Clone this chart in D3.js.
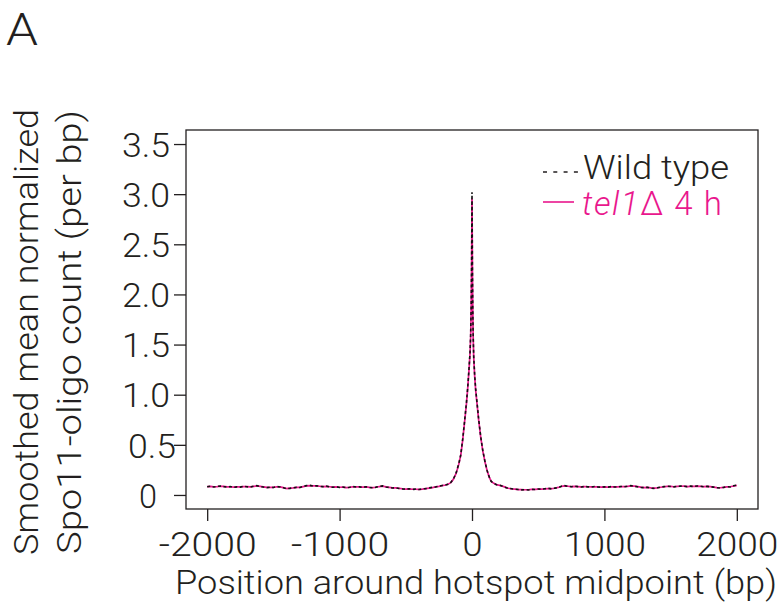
<!DOCTYPE html>
<html>
<head>
<meta charset="utf-8">
<script src="https://cdn.jsdelivr.net/npm/d3@7"></script>
<style>
  html, body { margin: 0; padding: 0; background: #ffffff; }
  svg { display: block; }
  text { font-family: "Roboto", "Liberation Sans", sans-serif; font-weight: 300; fill: #231f20; }
</style>
</head>
<body>
<svg id="chart" width="781" height="611"></svg>
<script>
// ---- data ----
const positions = [
  -2000,-1975,-1950,-1925,-1900,-1875,-1850,-1825,-1800,-1775,-1750,-1725,-1700,-1675,-1650,-1625,-1600,-1575,-1550,-1525,
  -1500,-1475,-1450,-1425,-1400,-1375,-1350,-1325,-1300,-1275,-1250,-1225,-1200,-1175,-1150,-1125,-1100,-1075,-1050,-1025,
  -1000,-975,-950,-925,-900,-875,-850,-825,-800,-775,-750,-725,-700,-675,-650,-625,-600,-575,-550,-525,
  -500,-475,-450,-425,-400,-375,-350,-325,-300,-275,-250,-225,-200,-180,-160,-140,-120,-100,-85,-70,
  -55,-42,-32,-23,-15,-10,-6,-3,-1,0,1,3,6,9,13,20,28,38,50,66,
  82,100,115,130,145,165,185,210,235,260,275,300,325,350,375,400,425,450,475,500,
  525,550,575,600,625,650,675,700,725,750,775,800,825,850,875,900,925,950,975,1000,
  1025,1050,1075,1100,1125,1150,1175,1200,1225,1250,1275,1300,1325,1350,1375,1400,1425,1450,1475,1500,
  1525,1550,1575,1600,1625,1650,1675,1700,1725,1750,1775,1800,1825,1850,1875,1900,1925,1950,1975,2000
];
const wildType = [
  0.082,0.087,0.080,0.085,0.089,0.083,0.079,0.084,0.076,0.081,0.078,0.086,0.082,0.079,0.088,0.093,0.084,0.079,0.073,0.078,
  0.074,0.084,0.080,0.071,0.062,0.066,0.072,0.076,0.074,0.085,0.093,0.096,0.089,0.092,0.086,0.083,0.088,0.080,0.077,0.082,
  0.075,0.079,0.072,0.077,0.084,0.079,0.081,0.076,0.082,0.074,0.071,0.078,0.086,0.090,0.080,0.075,0.069,0.072,0.064,0.060,
  0.057,0.061,0.055,0.058,0.054,0.060,0.063,0.070,0.076,0.079,0.088,0.095,0.100,0.106,0.125,0.160,0.220,0.310,0.400,0.560,
  0.750,0.920,1.080,1.250,1.420,1.600,1.900,2.300,2.750,3.020,2.800,2.300,1.850,1.580,1.380,1.200,1.050,0.920,0.760,0.580,
  0.440,0.320,0.240,0.180,0.135,0.115,0.102,0.098,0.085,0.072,0.066,0.062,0.058,0.055,0.051,0.053,0.050,0.056,0.054,0.060,
  0.057,0.062,0.066,0.061,0.068,0.073,0.087,0.093,0.086,0.082,0.088,0.083,0.079,0.085,0.081,0.079,0.084,0.080,0.077,0.081,
  0.078,0.083,0.080,0.079,0.085,0.082,0.088,0.093,0.087,0.082,0.076,0.073,0.077,0.068,0.066,0.072,0.078,0.083,0.088,0.085,
  0.081,0.086,0.089,0.087,0.083,0.088,0.085,0.090,0.087,0.082,0.086,0.082,0.078,0.072,0.070,0.076,0.083,0.080,0.092,0.098
];
const tel1 = [
  0.084,0.085,0.082,0.083,0.087,0.085,0.081,0.082,0.078,0.080,0.080,0.084,0.083,0.081,0.086,0.090,0.085,0.080,0.075,0.077,
  0.076,0.082,0.081,0.073,0.064,0.068,0.071,0.075,0.076,0.083,0.090,0.093,0.090,0.090,0.087,0.084,0.086,0.082,0.078,0.080,
  0.077,0.078,0.074,0.076,0.082,0.080,0.080,0.078,0.080,0.076,0.073,0.077,0.084,0.088,0.081,0.076,0.071,0.070,0.066,0.062,
  0.059,0.060,0.057,0.057,0.056,0.059,0.064,0.069,0.074,0.080,0.086,0.093,0.099,0.108,0.123,0.158,0.215,0.305,0.395,0.550,
  0.740,0.910,1.070,1.240,1.410,1.580,1.870,2.260,2.700,2.950,2.760,2.270,1.830,1.570,1.370,1.190,1.040,0.910,0.750,0.575,
  0.435,0.318,0.238,0.178,0.136,0.116,0.103,0.096,0.086,0.073,0.067,0.061,0.059,0.054,0.053,0.052,0.052,0.055,0.055,0.058,
  0.059,0.061,0.064,0.063,0.067,0.075,0.085,0.090,0.087,0.083,0.086,0.084,0.080,0.083,0.082,0.080,0.082,0.081,0.078,0.080,
  0.079,0.082,0.081,0.080,0.083,0.083,0.086,0.090,0.088,0.083,0.078,0.074,0.076,0.070,0.068,0.071,0.077,0.082,0.086,0.086,
  0.082,0.085,0.087,0.088,0.084,0.086,0.086,0.088,0.086,0.083,0.085,0.083,0.079,0.074,0.072,0.075,0.081,0.082,0.089,0.095
];
const xTicks = [-2000, -1000, 0, 1000, 2000];
const yTicks = [0, 0.5, 1.0, 1.5, 2.0, 2.5, 3.0, 3.5];
const yTickLabels = ["0", "0.5", "1.0", "1.5", "2.0", "2.5", "3.0", "3.5"];
const seriesNames = ["Wild type", "tel1", "\u0394 4 h"];

// ---- layout ----
const svg = d3.select("#chart");
const ink = "#231f20";
const magenta = "#e9178d";
const L = 186, R = 758, T = 130, B = 509;

const x = d3.scaleLinear().domain([-2160, 2160]).range([L, R]);
const y = d3.scaleLinear().domain([-0.14, 3.64]).range([B, T]);

// panel letter
svg.append("text").attr("x", 6).attr("y", 45).style("font-size", "44px")
  .attr("textLength", 32).attr("lengthAdjust", "spacingAndGlyphs").text("A");

// box
svg.append("rect").attr("x", L).attr("y", T).attr("width", R - L).attr("height", B - T)
  .attr("fill", "none").attr("stroke", ink).attr("stroke-width", 1.3);

// x axis
const xAxis = d3.axisBottom(x).tickValues(xTicks).tickSize(12).tickPadding(6)
  .tickFormat(d => d3.format("d")(d).replace("\u2212", "-"));
const gx = svg.append("g").attr("transform", `translate(0,${B})`).call(xAxis);
gx.select(".domain").remove();
gx.selectAll(".tick line").attr("stroke", ink).attr("stroke-width", 1.3);
gx.selectAll(".tick text").attr("y", 47).attr("dy", null)
  .style("font-size", "34px").style("font-family", null).attr("fill", ink)
  .attr("textLength", d => d < 0 ? 98 : (d === 0 ? 20 : 82)).attr("lengthAdjust", "spacingAndGlyphs");

// y axis
const yAxis = d3.axisLeft(y).tickValues(yTicks).tickSize(12)
  .tickFormat((d, i) => yTickLabels[i]);
const gy = svg.append("g").attr("transform", `translate(${L},0)`).call(yAxis);
gy.select(".domain").remove();
gy.selectAll(".tick line").attr("stroke", ink).attr("stroke-width", 1.3);
gy.selectAll(".tick text")
  .attr("text-anchor", "middle")
  .attr("x", d => d === 0.5 ? -34 : (d === 0 ? -38 : -40))
  .attr("dy", "0.36em")
  .style("font-size", "34px").style("font-family", null).attr("fill", ink)
  .attr("textLength", d => d === 0 ? 18 : 48).attr("lengthAdjust", "spacingAndGlyphs");

// axis titles
svg.append("text").attr("x", 476).attr("y", 594).attr("text-anchor", "middle")
  .style("font-size", "33px").attr("textLength", 602).attr("lengthAdjust", "spacingAndGlyphs")
  .text("Position around hotspot midpoint (bp)");
svg.append("text").attr("transform", "translate(38,332) rotate(-90)").attr("text-anchor", "middle")
  .style("font-size", "33px").attr("textLength", 446).attr("lengthAdjust", "spacingAndGlyphs")
  .text("Smoothed mean normalized");
svg.append("text").attr("transform", "translate(81,332) rotate(-90)").attr("text-anchor", "middle")
  .style("font-size", "33px").attr("textLength", 444).attr("lengthAdjust", "spacingAndGlyphs")
  .text("Spo11-oligo count (per bp)");

// lines
const line = d3.line().x(d => x(d[0])).y(d => y(d[1]));
const tel1Data = positions.map((p, i) => [p, tel1[i]]);
const wtData = positions.map((p, i) => [p, wildType[i]]);
svg.append("path").datum(tel1Data).attr("d", line).attr("fill", "none")
  .attr("stroke", magenta).attr("stroke-width", 1.7).attr("stroke-linejoin", "round");
svg.append("path").datum(wtData).attr("d", line).attr("fill", "none")
  .attr("stroke", "#111").attr("stroke-width", 1.6).attr("stroke-dasharray", "3,2.5");

// legend
svg.append("line").attr("x1", 543).attr("x2", 578).attr("y1", 172).attr("y2", 172)
  .attr("stroke", ink).attr("stroke-width", 1.5).attr("stroke-dasharray", "4,6.3");
svg.append("text").attr("x", 583).attr("y", 179).style("font-size", "33px")
  .attr("textLength", 146).attr("lengthAdjust", "spacingAndGlyphs").text(seriesNames[0]);
svg.append("line").attr("x1", 543).attr("x2", 574).attr("y1", 202).attr("y2", 202)
  .attr("stroke", magenta).attr("stroke-width", 1.6);
const lt = svg.append("text").attr("x", 582).attr("y", 215).style("font-size", "33px").attr("fill", magenta)
  .attr("textLength", 140).attr("lengthAdjust", "spacing");
lt.append("tspan").style("font-style", "italic").attr("fill", magenta).text(seriesNames[1]);
lt.append("tspan").attr("fill", magenta).text(seriesNames[2]);
</script>
</body>
</html>
